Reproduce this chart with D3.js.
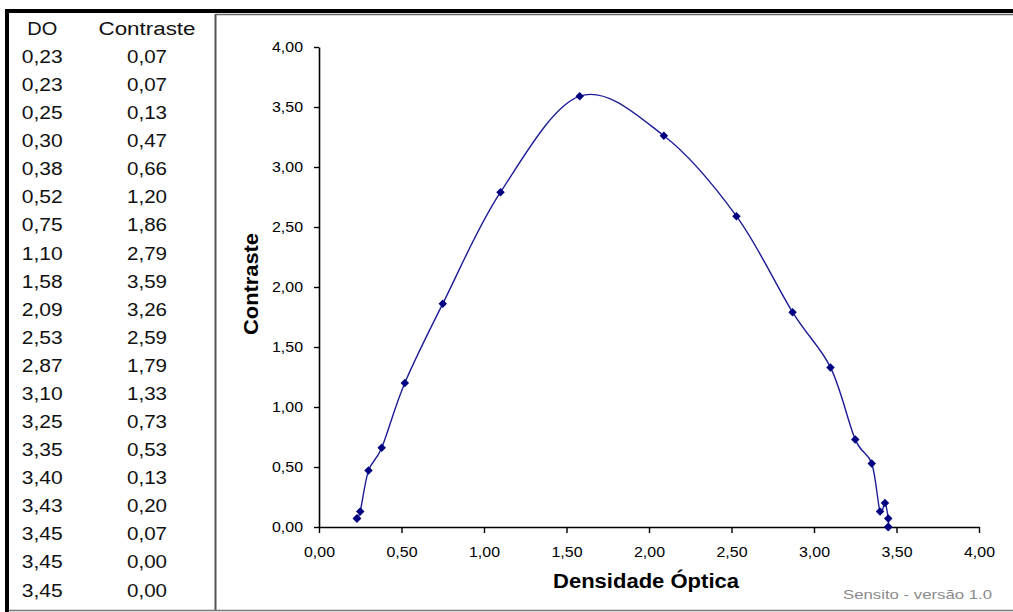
<!DOCTYPE html>
<html>
<head>
<meta charset="utf-8">
<script src="https://cdn.jsdelivr.net/npm/d3@7"></script>
<style>
  body { margin: 0; background: #fff; }
  svg { display: block; }
</style>
</head>
<body>
<script>
// dados da tabela (DO x Contraste)
var densidade = [0.23, 0.23, 0.25, 0.30, 0.38, 0.52, 0.75, 1.10, 1.58, 2.09,
                 2.53, 2.87, 3.10, 3.25, 3.35, 3.40, 3.43, 3.45, 3.45, 3.45];
var contraste = [0.07, 0.07, 0.13, 0.47, 0.66, 1.20, 1.86, 2.79, 3.59, 3.26,
                 2.59, 1.79, 1.33, 0.73, 0.53, 0.13, 0.20, 0.07, 0.00, 0.00];
var xTicks = [0, 0.5, 1, 1.5, 2, 2.5, 3, 3.5, 4];
var yTicks = [0, 0.5, 1, 1.5, 2, 2.5, 3, 3.5, 4];
var colHeaders = ['DO', 'Contraste'];

var W = 1013, H = 612;
var fmt = function(d){ return d.toFixed(2).replace('.', ','); };

var svg = d3.select('body').append('svg')
    .attr('width', W)
    .attr('height', H);

// molduras
svg.append('rect').attr('x', 5).attr('y', 9).attr('width', W - 5).attr('height', 4).attr('fill', '#000');
svg.append('rect').attr('x', 5).attr('y', 9).attr('width', 4).attr('height', H - 9).attr('fill', '#000');
svg.append('line').attr('x1', 215).attr('x2', W).attr('y1', 14.5).attr('y2', 14.5)
    .attr('stroke', '#666').attr('stroke-width', 1.5);
svg.append('line').attr('x1', 215.5).attr('x2', 215.5).attr('y1', 14).attr('y2', 611)
    .attr('stroke', '#555').attr('stroke-width', 2);
svg.append('line').attr('x1', 9).attr('x2', W).attr('y1', 610.5).attr('y2', 610.5)
    .attr('stroke', '#777').attr('stroke-width', 1.5);

// tabela
var table = svg.append('g')
    .style('font-family', 'Arial, "Liberation Sans", sans-serif')
    .style('font-size', '18px')
    .attr('fill', '#111');
var colX = [42.3, 147];
var rowH = 28.08;
var row0 = 63;

table.append('text').attr('x', colX[0]).attr('y', row0 - rowH)
    .attr('text-anchor', 'middle').attr('textLength', 30).attr('lengthAdjust', 'spacingAndGlyphs')
    .text(colHeaders[0]);
table.append('text').attr('x', colX[1]).attr('y', row0 - rowH)
    .attr('text-anchor', 'middle').attr('textLength', 97).attr('lengthAdjust', 'spacingAndGlyphs')
    .text(colHeaders[1]);

table.selectAll('.do').data(densidade).enter().append('text')
    .attr('class', 'do')
    .attr('x', colX[0])
    .attr('y', function(d, i){ return row0 + i * rowH; })
    .attr('text-anchor', 'middle')
    .attr('textLength', 41).attr('lengthAdjust', 'spacingAndGlyphs')
    .text(fmt);
table.selectAll('.ct').data(contraste).enter().append('text')
    .attr('class', 'ct')
    .attr('x', colX[1])
    .attr('y', function(d, i){ return row0 + i * rowH; })
    .attr('text-anchor', 'middle')
    .attr('textLength', 40).attr('lengthAdjust', 'spacingAndGlyphs')
    .text(fmt);

// grafico
var x = d3.scaleLinear().domain([0, 4]).range([319, 979]);
var y = d3.scaleLinear().domain([0, 4]).range([527, 47]);

var gx = svg.append('g').attr('transform', 'translate(0,' + y(0) + ')')
    .call(d3.axisBottom(x).tickValues(xTicks).tickFormat(fmt).tickSize(6).tickSizeOuter(0).tickPadding(14));
var gy = svg.append('g').attr('transform', 'translate(' + x(0) + ',0)')
    .call(d3.axisLeft(y).tickValues(yTicks).tickFormat(fmt).tickSize(5).tickSizeOuter(0).tickPadding(11));

[gx, gy].forEach(function(g){
    g.select('.domain').attr('stroke', '#000').attr('stroke-width', 1.6);
    g.selectAll('.tick line').attr('stroke', '#000').attr('stroke-width', 1.4);
    g.selectAll('.tick text')
        .attr('fill', '#000')
        .attr('textLength', 31)
        .attr('lengthAdjust', 'spacingAndGlyphs')
        .style('font-family', 'Arial, "Liberation Sans", sans-serif')
        .style('font-size', '14px');
});

// curva suavizada
var pts = densidade.map(function(d, i){ return [d, contraste[i]]; });
var line = d3.line()
    .x(function(d){ return x(d[0]); })
    .y(function(d){ return y(d[1]); })
    .curve(d3.curveCardinal.tension(0));

svg.append('path')
    .datum(pts)
    .attr('d', line)
    .attr('fill', 'none')
    .attr('stroke', '#1c1c96')
    .attr('stroke-width', 1.4);

var marker = d3.symbol().type(d3.symbolSquare).size(36);
svg.selectAll('.pt').data(pts).enter().append('path')
    .attr('class', 'pt')
    .attr('d', marker)
    .attr('transform', function(d){ return 'translate(' + x(d[0]) + ',' + y(d[1]) + ') rotate(45)'; })
    .attr('fill', '#000080');

// titulos
svg.append('text')
    .attr('transform', 'translate(257.5,284) rotate(-90)')
    .attr('text-anchor', 'middle')
    .attr('textLength', 102).attr('lengthAdjust', 'spacingAndGlyphs')
    .style('font-family', 'Arial, "Liberation Sans", sans-serif')
    .style('font-size', '20px')
    .style('font-weight', 'bold')
    .text('Contraste');

svg.append('text')
    .attr('x', 646).attr('y', 588)
    .attr('text-anchor', 'middle')
    .attr('textLength', 186).attr('lengthAdjust', 'spacingAndGlyphs')
    .style('font-family', 'Arial, "Liberation Sans", sans-serif')
    .style('font-size', '20px')
    .style('font-weight', 'bold')
    .text('Densidade Óptica');

svg.append('text')
    .attr('x', 992).attr('y', 599)
    .attr('text-anchor', 'end')
    .attr('textLength', 149).attr('lengthAdjust', 'spacingAndGlyphs')
    .attr('fill', '#8a8a8a')
    .style('font-family', 'Arial, "Liberation Sans", sans-serif')
    .style('font-size', '13px')
    .text('Sensito - versão 1.0');
</script>
</body>
</html>
